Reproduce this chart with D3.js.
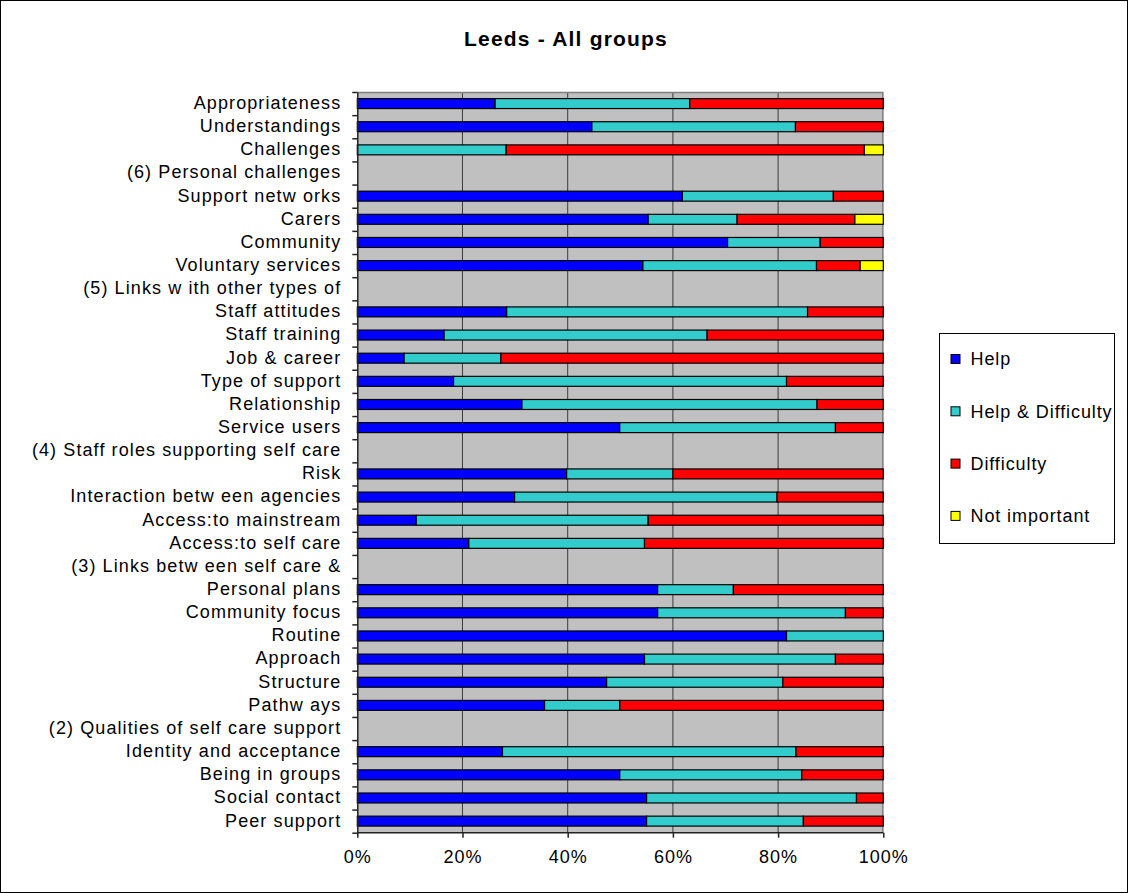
<!DOCTYPE html>
<meta charset="utf-8">
<style>
body { margin: 0; background: #fff; }
svg { display: block; font-family: Arial, "Liberation Sans", sans-serif; }
.lbl { font-size: 18px; letter-spacing: 1.1px; fill: #000; }
.axis text { font-size: 18px; letter-spacing: 1px; fill: #000; font-family: Arial, "Liberation Sans", sans-serif; }
</style>
<body>
<script src="https://cdn.jsdelivr.net/npm/d3@7"></script>
<script>

// categories, top to bottom
var categories = ["Appropriateness", "Understandings", "Challenges", "(6) Personal challenges",
  "Support netw orks", "Carers", "Community", "Voluntary services", "(5) Links w ith other types of",
  "Staff attitudes", "Staff training", "Job & career", "Type of support", "Relationship",
  "Service users", "(4) Staff roles supporting self care", "Risk", "Interaction betw een agencies",
  "Access:to mainstream", "Access:to self care", "(3) Links betw een self care &", "Personal plans",
  "Community focus", "Routine", "Approach", "Structure", "Pathw ays",
  "(2) Qualities of self care support", "Identity and acceptance", "Being in groups ",
  "Social contact", "Peer support"];

// percentages per series
var help =         [26.2, 44.6, 0, 0, 61.8, 55.3, 70.4, 54.3, 0, 28.4, 16.5, 8.9, 18.3, 31.3, 49.9, 0, 39.8, 29.9, 11.2, 21.2, 0, 57.1, 57.1, 81.6, 54.6, 47.4, 35.6, 0, 27.6, 49.9, 55.0, 55.0];
var helpDiff =     [37.0, 38.7, 28.3, 0, 28.7, 16.9, 17.6, 33.0, 0, 57.2, 50.0, 18.4, 63.3, 56.1, 41.0, 0, 20.2, 49.9, 44.1, 33.4, 0, 14.4, 35.7, 18.4, 36.3, 33.5, 14.3, 0, 55.8, 34.6, 39.9, 29.8];
var difficulty =   [36.8, 16.7, 68.1, 0, 9.5, 22.4, 12.0, 8.3, 0, 14.4, 33.5, 72.7, 18.4, 12.6, 9.1, 0, 40.0, 20.2, 44.7, 45.4, 0, 28.5, 7.2, 0, 9.1, 19.1, 50.1, 0, 16.6, 15.5, 5.1, 15.2];
var notImportant = [0, 0, 3.6, 0, 0, 5.4, 0, 4.4, 0, 0, 0, 0, 0, 0, 0, 0, 0, 0, 0, 0, 0, 0, 0, 0, 0, 0, 0, 0, 0, 0, 0, 0];

var keys = ["Help", "Help & Difficulty", "Difficulty", "Not important"];
var colors = ["#0000ff", "#33cccc", "#ff0000", "#ffff00"];
var xTicks = [0, 20, 40, 60, 80, 100];

var W = 1128, H = 893;
var margin = {top: 92, left: 357.3},
    width = 526,
    height = 740.7;

var svg = d3.select("body").append("svg")
    .attr("width", W)
    .attr("height", H);

// outer frame
svg.append("rect")
    .attr("x", 0.5).attr("y", 0.5)
    .attr("width", W - 1).attr("height", H - 1)
    .attr("fill", "#fff").attr("stroke", "#000");

svg.append("text")
    .attr("x", 566)
    .attr("y", 46)
    .attr("text-anchor", "middle")
    .style("font-size", "21px")
    .style("font-weight", "bold")
    .style("letter-spacing", "1.2px")
    .text("Leeds - All groups");

var g = svg.append("g")
    .attr("transform", "translate(" + margin.left + "," + margin.top + ")");

var x = d3.scaleLinear().domain([0, 100]).range([0, width]);
var y = d3.scaleBand().domain(categories).range([0, height])
    .paddingInner(0.57).paddingOuter(0.285);
var z = d3.scaleOrdinal().domain(keys).range(colors);

// plot background
g.append("rect")
    .attr("width", width).attr("height", height)
    .attr("fill", "#c0c0c0");

// gridlines
g.selectAll(".grid")
    .data(xTicks.slice(1, -1))
    .enter().append("line")
    .attr("x1", function(d) { return x(d); })
    .attr("x2", function(d) { return x(d); })
    .attr("y1", 0).attr("y2", height)
    .attr("stroke", "#3c3c3c").attr("stroke-width", 1);

// top and right border
g.append("path")
    .attr("d", "M0,0.5H" + (width - 0.5) + "V" + height)
    .attr("fill", "none").attr("stroke", "#808080").attr("stroke-width", 1.5);

// stack data
var rows = categories.map(function(c, i) {
  return {cat: c, "Help": help[i], "Help & Difficulty": helpDiff[i],
          "Difficulty": difficulty[i], "Not important": notImportant[i]};
});
var series = d3.stack().keys(keys)(rows);

g.append("g")
  .selectAll("g")
  .data(series)
  .enter().append("g")
    .attr("fill", function(d) { return z(d.key); })
  .selectAll("rect")
  .data(function(d) { return d.filter(function(p) { return p[1] - p[0] > 0; }); })
  .enter().append("rect")
    .attr("x", function(d) { return x(d[0]); })
    .attr("y", function(d) { return y(d.data.cat); })
    .attr("width", function(d) { return x(d[1]) - x(d[0]); })
    .attr("height", y.bandwidth())
    .attr("stroke", "#000")
    .attr("stroke-width", 1.2);

// y axis: ticks at band boundaries
var yb = d3.scaleLinear().domain([0, categories.length]).range([0, height]);
var yAxis = g.append("g")
    .call(d3.axisLeft(yb).tickValues(d3.range(categories.length + 1)).tickFormat("").tickSize(5).tickSizeOuter(0));
yAxis.selectAll("line, path").attr("stroke", "#222").attr("stroke-width", 1.5);

g.append("g")
  .selectAll("text")
  .data(categories)
  .enter().append("text")
    .attr("class", "lbl")
    .attr("x", -16)
    .attr("y", function(d) { return y(d) + y.bandwidth() / 2; })
    .attr("dy", "0.3em")
    .attr("text-anchor", "end")
    .text(function(d) { return d; });

// x axis
var xAxis = g.append("g")
    .attr("class", "axis")
    .attr("transform", "translate(0," + height + ")")
    .call(d3.axisBottom(x).tickValues(xTicks).tickFormat(function(d) { return d + "%"; })
      .tickSize(5).tickSizeOuter(0).tickPadding(13));
xAxis.selectAll("line, path").attr("stroke", "#222").attr("stroke-width", 1.5);
xAxis.select(".domain").remove();
xAxis.append("line").attr("x1", 0).attr("x2", width).attr("stroke", "#222").attr("stroke-width", 1.5);

// legend
var lg = svg.append("g").attr("transform", "translate(939.5,333.5)");
lg.append("rect")
    .attr("width", 175).attr("height", 210)
    .attr("fill", "#fff").attr("stroke", "#000");

var item = lg.selectAll(".item")
    .data(keys)
    .enter().append("g")
    .attr("transform", function(d, i) { return "translate(0," + (25.5 + i * 52.3) + ")"; });

item.append("rect")
    .attr("x", 11.5).attr("y", -4.5)
    .attr("width", 9).attr("height", 9)
    .attr("fill", z).attr("stroke", "#000");

item.append("text")
    .attr("class", "lbl")
    .attr("x", 31)
    .attr("dy", "0.35em")
    .style("letter-spacing", "0.9px")
    .text(function(d) { return d; });

</script>
</body>
